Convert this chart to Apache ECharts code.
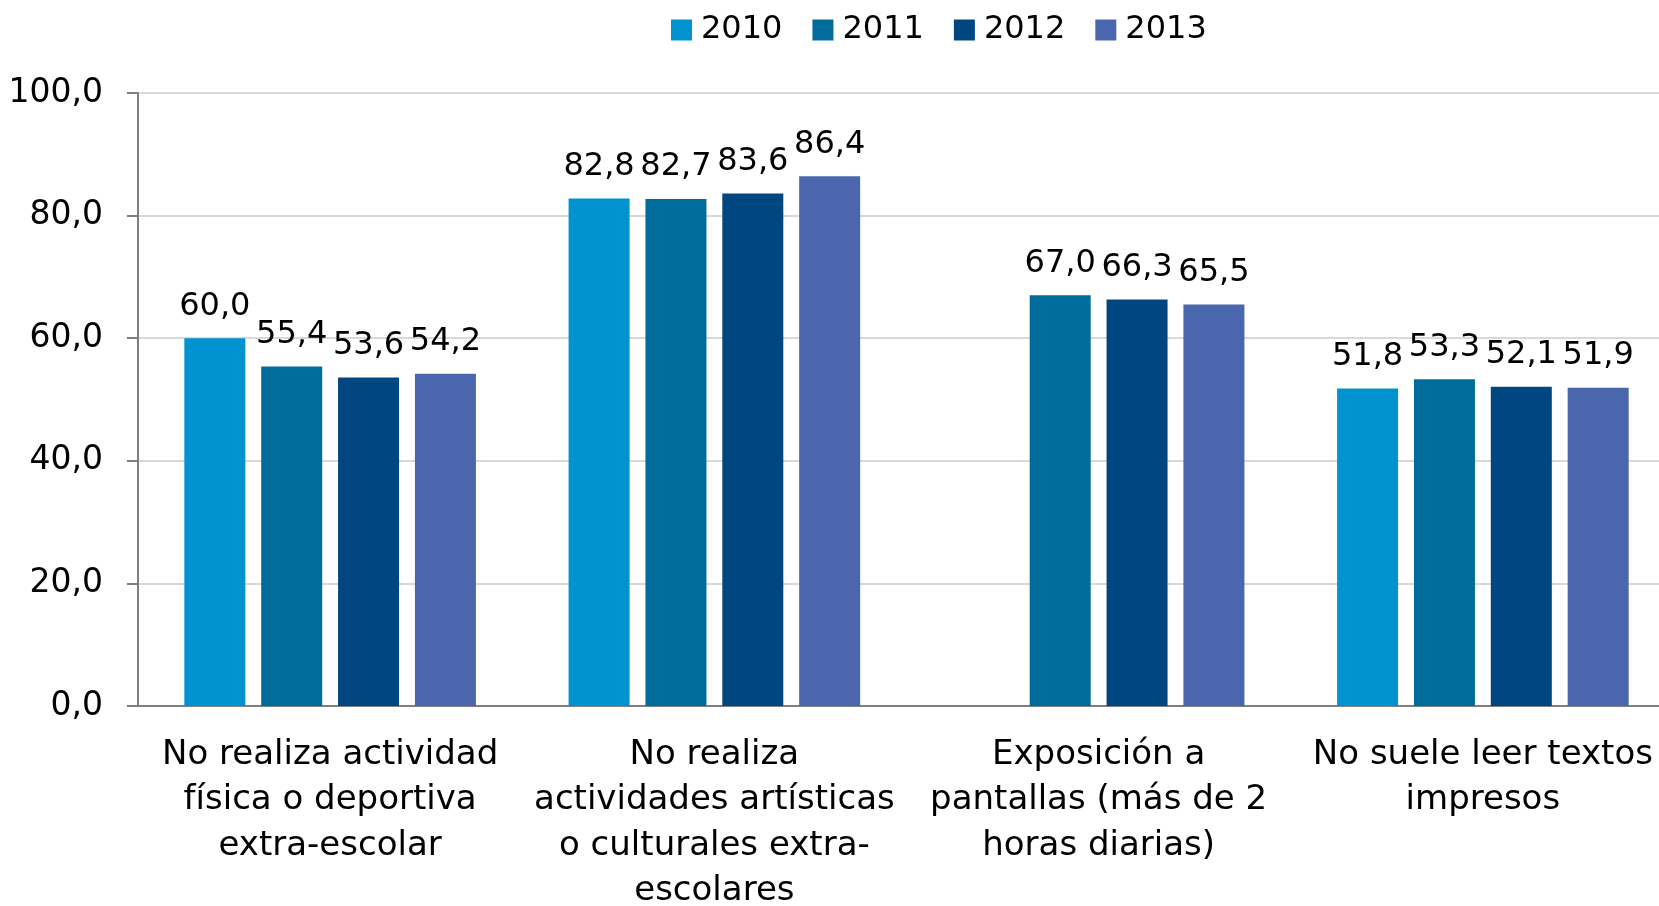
<!DOCTYPE html>
<html>
<head>
<meta charset="utf-8">
<script src="https://cdn.jsdelivr.net/npm/echarts@6/dist/echarts.min.js"></script>
<style>
html,body{margin:0;padding:0;background:#fff;}
#chart{width:1659px;height:906px;}
</style>
</head>
<body>
<div id="chart"></div>
<script>
const categories = [
  "No realiza actividad\nfísica o deportiva\nextra-escolar",
  "No realiza\nactividades artísticas\no culturales extra-\nescolares",
  "Exposición a\npantallas (más de 2\nhoras diarias)",
  "No suele leer textos\nimpresos"
];
const seriesNames = ["2010", "2011", "2012", "2013"];
const v2010 = [60.0, 82.8, null, 51.8];
const v2011 = [55.4, 82.7, 67.0, 53.3];
const v2012 = [53.6, 83.6, 66.3, 52.1];
const v2013 = [54.2, 86.4, 65.5, 51.9];
const yTicks = [0, 20, 40, 60, 80, 100];

const colors = ["#0093d0", "#006c9b", "#004680", "#4a66ac"];
const FONT = "DejaVu Sans";
const fmt = v => v.toFixed(1).replace(".", ",");

const chart = echarts.init(document.getElementById("chart"), null, {renderer: "canvas"});
const allData = [v2010, v2011, v2012, v2013];
chart.setOption({
  animation: false,
  backgroundColor: "#fff",
  color: colors,
  textStyle: {fontFamily: FONT, color: "#000"},
  legend: {
    data: seriesNames,
    top: 9,
    left: 666,
    itemWidth: 21,
    itemHeight: 21,
    itemGap: 30,
    icon: "rect",
    textStyle: {fontFamily: FONT, fontSize: 32, color: "#000", padding: [0, 0, 0, 4]}
  },
  grid: {left: 138, top: 93, width: 1537, bottom: 200, outerBoundsMode: "none", containLabel: false},
  xAxis: {
    type: "category",
    data: categories,
    axisLine: {show: true, lineStyle: {color: "#808080", width: 2}},
    axisTick: {show: false},
    axisLabel: {
      interval: 0,
      fontFamily: FONT,
      fontSize: 34,
      color: "#000",
      lineHeight: 45.5,
      margin: 26
    }
  },
  yAxis: {
    type: "value",
    min: yTicks[0],
    max: yTicks[yTicks.length - 1],
    interval: 20,
    axisLine: {show: true, lineStyle: {color: "#808080", width: 2}},
    axisTick: {show: true, length: 11, lineStyle: {color: "#808080", width: 2}},
    splitLine: {show: true, lineStyle: {color: "#d9d9d9", width: 2}},
    axisLabel: {
      fontFamily: FONT,
      fontSize: 33,
      color: "#000",
      margin: 35,
      formatter: v => fmt(v)
    }
  },
  series: seriesNames.map((name, i) => ({
    name: name,
    type: "bar",
    data: allData[i],
    barWidth: 61,
    barGap: "26%",
    barCategoryGap: "24%",
    itemStyle: {color: colors[i]},
    label: {
      show: true,
      position: "top",
      distance: 16,
      fontFamily: FONT,
      fontSize: 32,
      color: "#000",
      formatter: p => (p.value == null ? "" : fmt(p.value))
    }
  }))
});
</script>
</body>
</html>
